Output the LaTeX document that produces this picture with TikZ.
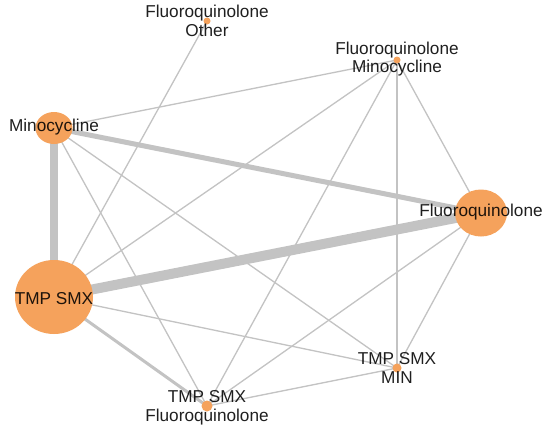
\documentclass[tikz,border=0pt]{standalone}
\usepackage{fontspec}
\setmainfont{Liberation Sans}
\usetikzlibrary{shapes.geometric}
\definecolor{nodeor}{RGB}{245,162,92}
\definecolor{edgegr}{RGB}{195,195,195}
\pgfdeclarelayer{bg}
\pgfsetlayers{bg,main}
\begin{document}
\begin{tikzpicture}[x=1pt,y=-1pt,
  vert/.style={ellipse,fill=nodeor,inner sep=0pt},
  lab/.style={font=\fontsize{17.2pt}{18.5pt}\selectfont,align=center,text=black,text opacity=0.88,inner sep=0pt},
  edge/.style={draw=edgegr,line width=1.3pt},
  wedge/.style={draw=edgegr}
]
\useasboundingbox (0,0) rectangle (550,431);
% vertices
\node[vert,minimum width=7pt,minimum height=7pt] (fo) at (207,21) {};
\node[vert,minimum width=7pt,minimum height=7pt] (fm) at (397,60) {};
\node[vert,minimum width=37pt,minimum height=32pt] (mi) at (54,128) {};
\node[vert,minimum width=52pt,minimum height=47pt] (fq) at (481,213) {};
\node[vert,minimum width=78pt,minimum height=74pt] (ts) at (54,297) {};
\node[vert,minimum width=9pt,minimum height=9pt] (tm) at (397,368) {};
\node[vert,minimum width=11pt,minimum height=11pt] (tf) at (207,406) {};
% labels
\node[lab] (foL) at (207,21) {Fluoroquinolone\\Other};
\node[lab] (fmL) at (397,59) {Fluoroquinolone\\Minocycline};
\node[lab] (miL) at (54,127) {Minocycline};
\node[lab] (fqL) at (481,212.5) {Fluoroquinolone};
\node[lab] (tsL) at (54,299) {TMP SMX};
\node[lab] (tmL) at (397,368) {TMP SMX\\MIN};
\node[lab] (tfL) at (207,408) {TMP SMX\\Fluoroquinolone};
% edges
\begin{pgfonlayer}{bg}
\fill[white] (0,0) rectangle (550,431);
\draw[wedge,line width=8pt] (mi.center) -- (ts.center);
\draw[wedge,line width=10pt] (ts.center) -- (fq.center);
\draw[wedge,line width=5pt] (mi.center) -- (fq.center);
\draw[wedge,line width=3pt] (ts.center) -- (tf.center);
\draw[edge] (mi.center) -- (fm.center);
\draw[edge] (mi.center) -- (tf.center);
\draw[edge] (mi.center) -- (tm.center);
\draw[edge] (fo.center) -- (ts.center);
\draw[edge] (fm.center) -- (ts.center);
\draw[edge] (fm.center) -- (tf.center);
\draw[edge] (fm.center) -- (tm.center);
\draw[edge] (fm.center) -- (fq.center);
\draw[edge] (fq.center) -- (tf.center);
\draw[edge] (fq.center) -- (tm.center);
\draw[edge] (ts.center) -- (tm.center);
\draw[edge] (tf.center) -- (tm.center);
\end{pgfonlayer}
\end{tikzpicture}
\end{document}
